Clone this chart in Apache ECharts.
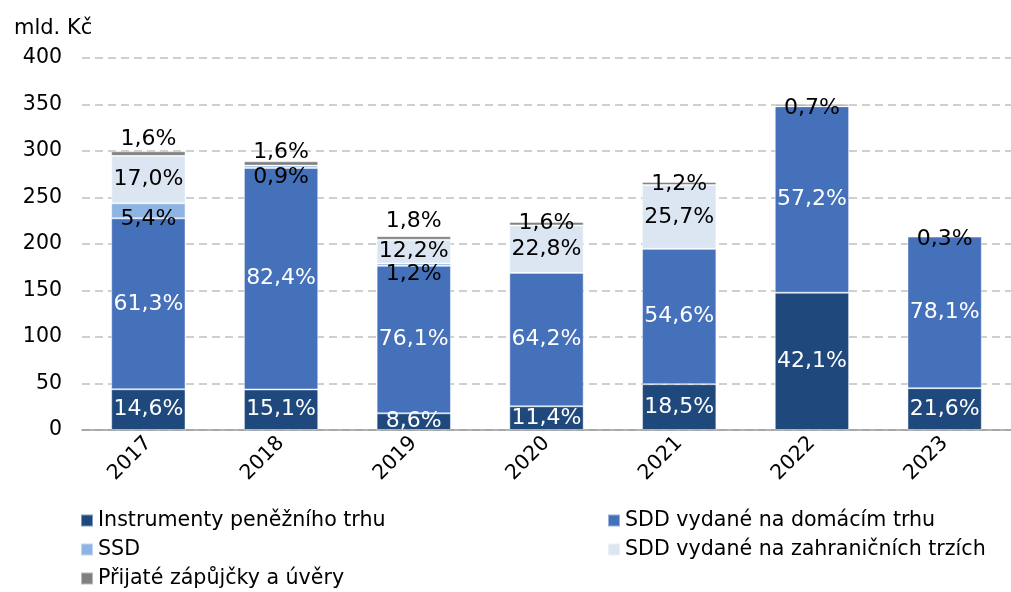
<!DOCTYPE html>
<html>
<head>
<meta charset="utf-8">
<script src="https://cdn.jsdelivr.net/npm/echarts@6/dist/echarts.min.js"></script>
<style>
  html, body { margin: 0; padding: 0; background: #fff; }
  #chart { width: 1011px; height: 592px; }
</style>
</head>
<body>
<div id="chart"></div>
<script>
// mld. Kč
const years = ["2017", "2018", "2019", "2020", "2021", "2022", "2023"];
const instrumenty = [43.8, 43.6, 17.9, 25.5, 49.3, 147.6, 45.0];
const sddDomaci = [183.8, 238.1, 158.6, 143.5, 145.6, 200.5, 163.0];
const ssd = [16.2, 2.6, 2.6, 0, 0, 0, 0];
const sddZahranici = [51.0, 0, 25.5, 51.0, 68.5, 0, 0];
const zapujcky = [4.8, 4.6, 3.8, 3.6, 3.2, 2.5, 0.6];
const yTicks = [0, 50, 100, 150, 200, 250, 300, 350, 400];

// label nudges (px) for the thin segments, as placed in the original
const ssdLabelShift = [8, 10, 10, 0, 0, 0, 0];
const loanLabelShift = [-14, -11, -17, 0, 1, 3, 3];

const FONT = "DejaVu Sans";
const totals = years.map((_, i) =>
  instrumenty[i] + sddDomaci[i] + ssd[i] + sddZahranici[i] + zapujcky[i]);

const pct = (v, i) => (v / totals[i] * 100).toFixed(1).replace(".", ",") + "%";

function makeSeries(name, values, color, textColor, shifts) {
  return {
    name: name,
    type: "bar",
    stack: "total",
    barWidth: "56%",
    itemStyle: { color: color, borderColor: "rgba(255,255,255,0.45)", borderWidth: 1 },
    data: values.map((v, i) => ({
      value: v,
      label: {
        show: v > 0,
        offset: [0, shifts ? shifts[i] : 0],
      },
    })),
    label: {
      position: "inside",
      color: textColor,
      fontFamily: FONT,
      fontSize: 22,
      formatter: (p) => pct(p.value, p.dataIndex),
    },
  };
}

const names = [
  "Instrumenty peněžního trhu",
  "SDD vydané na domácím trhu",
  "SSD",
  "SDD vydané na zahraničních trzích",
  "Přijaté zápůjčky a úvěry",
];
const legendPos = [
  [80, 510], [607, 510], [80, 539], [607, 539], [80, 568],
];

const chart = echarts.init(document.getElementById("chart"));
chart.setOption({
  animation: false,
  title: {
    text: "mld. Kč",
    left: 9,
    top: 13,
    textStyle: { fontFamily: FONT, fontSize: 21, fontWeight: "normal", color: "#000" },
  },
  legend: names.map((n, i) => ({
    data: [n],
    left: legendPos[i][0],
    top: legendPos[i][1],
    padding: 0,
    itemWidth: 12,
    itemHeight: 12,
    icon: "rect",
    selectedMode: false,
    textStyle: { fontFamily: FONT, fontSize: 20.6, color: "#000" },
  })),
  grid: { left: 82, top: 58, bottom: 162, right: -9 },
  xAxis: {
    type: "category",
    data: years,
    axisLine: { lineStyle: { color: "#9a9a9a", width: 1.5 } },
    axisTick: { length: 6, lineStyle: { color: "#9a9a9a", width: 1.5 } },
    axisLabel: { rotate: 45, fontFamily: FONT, fontSize: 20.5, color: "#000", margin: 10 },
  },
  yAxis: {
    type: "value",
    min: yTicks[0],
    max: yTicks[yTicks.length - 1],
    interval: 50,
    axisLine: { show: false },
    axisTick: { show: false },
    axisLabel: { fontFamily: FONT, fontSize: 20.5, color: "#000", margin: 20 },
    splitLine: { lineStyle: { color: "#c0c0c0", type: [8, 5], width: 1.5 } },
  },
  series: [
    makeSeries(names[0], instrumenty, "#1f497d", "#fff"),
    makeSeries(names[1], sddDomaci, "#4570ba", "#fff"),
    makeSeries(names[2], ssd, "#8db4e2", "#000", ssdLabelShift),
    makeSeries(names[3], sddZahranici, "#dce6f2", "#000"),
    makeSeries(names[4], zapujcky, "#808080", "#000", loanLabelShift),
  ],
});
</script>
</body>
</html>
